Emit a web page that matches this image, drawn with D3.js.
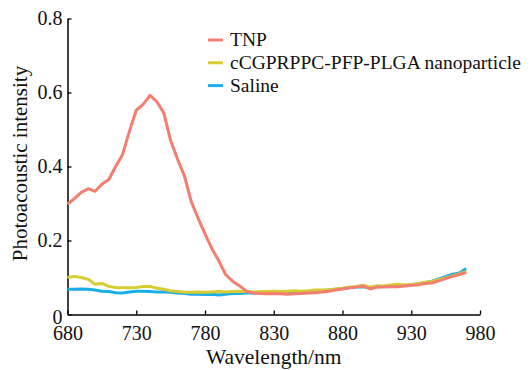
<!DOCTYPE html>
<html>
<head>
<meta charset="utf-8">
<script src="https://cdn.jsdelivr.net/npm/d3@7"></script>
<style>
  body { margin: 0; background: #fff; }
  svg { display: block; }
  text { font-family: "Liberation Serif", "Times New Roman", Tinos, "DejaVu Serif", serif; }
</style>
</head>
<body>
<div id="chart"></div>
<script>
// wavelengths sampled every 5 nm
const wavelengths = d3.range(680, 971, 5);

const tnp = [
  0.298, 0.313, 0.330, 0.340, 0.333, 0.352, 0.365, 0.400, 0.432, 0.495,
  0.552, 0.568, 0.592, 0.575, 0.545, 0.470, 0.420, 0.375, 0.305, 0.260,
  0.218, 0.178, 0.145, 0.108, 0.090, 0.078, 0.063, 0.058, 0.057, 0.056,
  0.057, 0.056, 0.055, 0.056, 0.057, 0.058, 0.059, 0.061, 0.063, 0.066,
  0.069, 0.072, 0.074, 0.077, 0.069, 0.074, 0.074, 0.075, 0.075, 0.077,
  0.079, 0.080, 0.084, 0.085, 0.091, 0.097, 0.103, 0.108, 0.114
];

const peptideNp = [
  0.100, 0.103, 0.100, 0.095, 0.082, 0.084, 0.076, 0.073, 0.072, 0.072,
  0.073, 0.076, 0.076, 0.071, 0.068, 0.064, 0.062, 0.060, 0.060, 0.061,
  0.060, 0.061, 0.062, 0.061, 0.062, 0.063, 0.062, 0.061, 0.062, 0.062,
  0.063, 0.062, 0.063, 0.064, 0.063, 0.064, 0.066, 0.066, 0.067, 0.069,
  0.071, 0.074, 0.076, 0.079, 0.074, 0.078, 0.077, 0.080, 0.082, 0.080,
  0.081, 0.083, 0.087, 0.089, 0.094, 0.099, 0.104, 0.110, 0.116
];

const saline = [
  0.068, 0.068, 0.069, 0.068, 0.066, 0.063, 0.062, 0.059, 0.058, 0.061,
  0.063, 0.063, 0.062, 0.061, 0.061, 0.060, 0.058, 0.057, 0.055, 0.055,
  0.054, 0.055, 0.053, 0.055, 0.057, 0.057, 0.058, 0.058, 0.059, 0.058,
  0.059, 0.060, 0.059, 0.060, 0.061, 0.062, 0.063, 0.064, 0.066, 0.068,
  0.070, 0.072, 0.074, 0.075, 0.073, 0.075, 0.076, 0.077, 0.078, 0.079,
  0.080, 0.083, 0.086, 0.090, 0.096, 0.102, 0.109, 0.112, 0.124
];

const xTicks = [680, 730, 780, 830, 880, 930, 980];
const yTicks = [0, 0.2, 0.4, 0.6, 0.8];

// drawn bottom to top; legend lists them in reverse
const series = [
  { name: "Saline", values: saline, color: "#1aaee6" },
  { name: "cCGPRPPC-PFP-PLGA nanoparticle", values: peptideNp, color: "#d7cc32" },
  { name: "TNP", values: tnp, color: "#f37e70" },
];

const width = 531;
const height = 370;
const margin = { top: 18.5, right: 51, bottom: 55.5, left: 67.5 };

const svg = d3.select("#chart")
  .append("svg")
  .attr("width", width)
  .attr("height", height);

const x = d3.scaleLinear().domain([680, 980]).range([margin.left, width - margin.right]);
const y = d3.scaleLinear().domain([0, 0.8]).range([height - margin.bottom, margin.top]);

const xAxis = d3.axisBottom(x)
  .tickValues(xTicks)
  .tickSizeInner(-4)
  .tickSizeOuter(0)
  .tickPadding(11)
  .tickFormat(d3.format("d"));

const yAxis = d3.axisLeft(y)
  .tickValues(yTicks)
  .tickSizeInner(-4)
  .tickSizeOuter(0)
  .tickPadding(5)
  .tickFormat((d) => (d === 0 ? "0" : d3.format(".1f")(d)));

const styleAxis = (g) => {
  g.attr("font-family", null);
  g.select(".domain").attr("stroke", "#000").attr("stroke-width", 1.5);
  g.selectAll(".tick line").attr("stroke", "#000").attr("stroke-width", 1.3);
  g.selectAll(".tick text")
    .attr("fill", "#111")
    .style("font-size", "20px");
};

svg.append("g")
  .attr("transform", `translate(0,${height - margin.bottom})`)
  .call(xAxis)
  .call(styleAxis);

const yAxisG = svg.append("g")
  .attr("transform", `translate(${margin.left},0)`)
  .call(yAxis)
  .call(styleAxis);

// the "0" label sits a little low in the original
yAxisG.selectAll(".tick text").filter((d) => d === 0).attr("dy", "0.47em");

const line = d3.line()
  .x((d, i) => x(wavelengths[i]))
  .y((d) => y(d));

svg.append("g")
  .selectAll("path")
  .data(series)
  .enter()
  .append("path")
  .attr("d", (s) => line(s.values))
  .attr("fill", "none")
  .attr("stroke", (s) => s.color)
  .attr("stroke-width", 3)
  .attr("stroke-linejoin", "round");

// axis titles
svg.append("text")
  .attr("x", (x(680) + x(980)) / 2)
  .attr("y", 364)
  .attr("text-anchor", "middle")
  .style("font-size", "21.5px")
  .attr("fill", "#111")
  .text("Wavelength/nm");

svg.append("text")
  .attr("transform", `translate(27,${(y(0) + y(0.8)) / 2 - 3}) rotate(-90)`)
  .attr("text-anchor", "middle")
  .style("font-size", "21px")
  .attr("fill", "#111")
  .text("Photoacoustic intensity");

// legend
const legendRows = [...series].reverse();
const legend = svg.append("g").attr("transform", "translate(208,40)");
const rowStep = 22.8;

legend.selectAll("line")
  .data(legendRows)
  .enter()
  .append("line")
  .attr("x1", 0)
  .attr("x2", 15)
  .attr("y1", (d, i) => i * rowStep)
  .attr("y2", (d, i) => i * rowStep)
  .attr("stroke", (d) => d.color)
  .attr("stroke-width", 3);

legend.selectAll("text")
  .data(legendRows)
  .enter()
  .append("text")
  .attr("x", 22)
  .attr("y", (d, i) => i * rowStep + 6)
  .style("font-size", "19.5px")
  .attr("fill", "#111")
  .text((d) => d.name);
</script>
</body>
</html>
